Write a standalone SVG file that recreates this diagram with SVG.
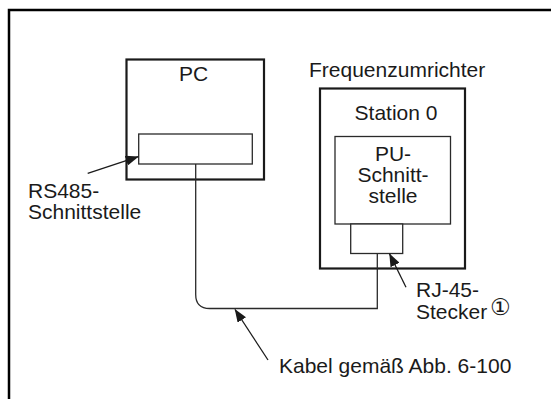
<svg xmlns="http://www.w3.org/2000/svg" width="551" height="399" viewBox="0 0 551 399">
<style>
text{font-family:"Liberation Sans",Arial,Helvetica,sans-serif;font-size:21px;fill:#1a1a1a}
.mid{text-anchor:middle}
.outer{fill:none;stroke:#1a1a1a;stroke-width:2.2}
.inner{fill:#fff;stroke:#2a2a2a;stroke-width:1.3}
.wire{fill:none;stroke:#2a2a2a;stroke-width:1.3}
.lead{fill:none;stroke:#1a1a1a;stroke-width:1.3}
</style>
<defs>
<marker id="ah" viewBox="0 0 13 10" refX="12.5" refY="5" markerWidth="13" markerHeight="10" markerUnits="userSpaceOnUse" orient="auto">
<path d="M0,0 L13,5 L0,10 Z" fill="#1a1a1a"/>
</marker>
</defs>
<rect width="551" height="399" fill="#fff"/>
<path d="M9,399 V10 H551" fill="none" stroke="#000" stroke-width="2.5"/>
<g id="pc">
<rect class="outer" x="126.5" y="59.5" width="137.5" height="120"/>
<text class="mid" x="193.5" y="80.5">PC</text>
</g>
<g id="rs485">
<rect class="inner" x="138.7" y="134" width="113.6" height="30"/>
</g>
<g id="fu">
<text x="309" y="77">Frequenzumrichter</text>
<rect class="outer" x="320" y="88.5" width="145" height="180"/>
<text class="mid" x="396" y="120">Station 0</text>
</g>
<g id="pu">
<rect class="inner" x="335" y="136.5" width="115.5" height="87.5"/>
<text class="mid" x="393" y="161">PU-</text>
<text class="mid" x="393" y="182">Schnitt-</text>
<text class="mid" x="393" y="203">stelle</text>
</g>
<g id="rj45">
<rect class="inner" x="350.7" y="224" width="52" height="29.5"/>
</g>
<g id="connectors">
<path class="wire" d="M195.7,164 V294.5 Q195.7,308.5 209.7,308.5 H377.3 V253.5"/>
<line class="lead" x1="87.7" y1="173.3" x2="138.3" y2="156.7" marker-end="url(#ah)"/>
<line class="lead" x1="406" y1="287.3" x2="389.5" y2="253.8" marker-end="url(#ah)"/>
<line class="lead" x1="268" y1="360" x2="235" y2="309.5" marker-end="url(#ah)"/>
</g>
<g id="labels">
<text x="28" y="197.5">RS485-</text>
<text x="28" y="219">Schnittstelle</text>
<text x="416" y="297">RJ-45-</text>
<text x="416" y="319">Stecker</text>
<text x="490" y="315" style="font-family:'DejaVu Sans',sans-serif;font-size:23px">①</text>
<text x="279" y="373">Kabel gemäß Abb. 6-100</text>
</g>
</svg>
